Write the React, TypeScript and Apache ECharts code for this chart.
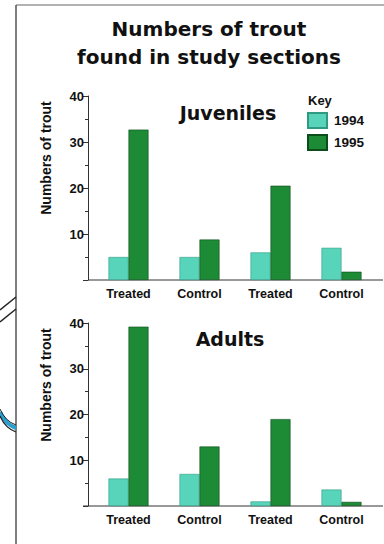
import React, { useEffect, useRef } from "react";
import * as echarts from "echarts";

const categories = ["Treated", "Control", "Treated", "Control"];
const juveniles1994 = [5, 5, 6, 7];
const juveniles1995 = [32.7, 8.8, 20.5, 1.8];
const adults1994 = [6, 7, 1, 3.6];
const adults1995 = [39.2, 13, 19, 0.9];
const seriesNames = ["1994", "1995"];
const titleLines = ["Numbers of trout", "found in study sections"];
const panelTitles = ["Juveniles", "Adults"];
const yName = "Numbers of trout";

const C94 = "#58d4bb";
const C95 = "#1d8a36";
const SMALL = "'Liberation Sans', Arial, sans-serif";
const BIG = "'DejaVu Sans', sans-serif";

export default function App() {
  const ref = useRef<HTMLDivElement>(null);
  useEffect(() => {
    const chart = echarts.init(ref.current!, undefined, { renderer: "svg" });
    const grids = [
      { left: 93, width: 284, top: 96, height: 184 },
      { left: 93, width: 284, top: 323, height: 183 },
    ];
    const yAxis = grids.map((_, i) => ({
      type: "value",
      gridIndex: i,
      min: 0,
      max: 40,
      interval: 10,
      offset: 5,
      axisLine: { show: true, lineStyle: { color: "#333", width: 1 } },
      axisTick: { show: true, length: 5, lineStyle: { color: "#333" } },
      minorTick: { show: true, splitNumber: 2, length: 3, lineStyle: { color: "#333" } },
      splitLine: { show: false },
      axisLabel: {
        fontFamily: SMALL,
        fontWeight: "bold",
        fontSize: 13,
        color: "#111",
        margin: 4,
        formatter: (v: number) => (v === 0 ? "" : String(v)),
      },
    }));
    const xAxis = grids.map((_, i) => ({
      type: "category",
      gridIndex: i,
      data: categories,
      axisLine: { show: false },
      axisTick: { show: false },
      axisLabel: { fontFamily: SMALL, fontWeight: "bold", fontSize: 12.5, color: "#111", margin: 7 },
    }));
    const series = [
      { name: seriesNames[0], data: juveniles1994, xi: 0, c: C94, b: "#2f9a82" },
      { name: seriesNames[1], data: juveniles1995, xi: 0, c: C95, b: "#0c4d1c" },
      { name: seriesNames[0], data: adults1994, xi: 1, c: C94, b: "#2f9a82" },
      { name: seriesNames[1], data: adults1995, xi: 1, c: C95, b: "#0c4d1c" },
    ].map((s) => ({
      type: "bar",
      name: s.name,
      data: s.data,
      xAxisIndex: s.xi,
      yAxisIndex: s.xi,
      barWidth: 20,
      barGap: "0%",
      itemStyle: { color: s.c, borderColor: s.b, borderWidth: 0.6 },
    }));
    const yNameText = (y: number) => ({
      type: "text",
      x: 46,
      y,
      rotation: Math.PI / 2,
      style: {
        text: yName,
        fontFamily: SMALL,
        fontWeight: "bold",
        fontSize: 14,
        fill: "#111",
        textAlign: "center",
        textVerticalAlign: "middle",
      },
    });
    chart.setOption({
      animation: false,
      backgroundColor: "#fff",
      title: {
        text: titleLines.join("\n"),
        left: 204,
        top: 10,
        textAlign: "center",
        textStyle: { fontFamily: BIG, fontWeight: "bold", fontSize: 20, lineHeight: 28, color: "#111" },
      },
      legend: {
        data: seriesNames,
        orient: "vertical",
        left: 307,
        top: 112,
        padding: 0,
        itemWidth: 19,
        itemHeight: 15,
        itemGap: 5,
        icon: "rect",
        textStyle: { fontFamily: SMALL, fontWeight: "bold", fontSize: 13.5, color: "#111", padding: [0, 0, 0, 2] },
      },
      grid: grids,
      xAxis,
      yAxis,
      series,
      graphic: [
        { type: "line", shape: { x1: 16, y1: 5, x2: 384, y2: 5 }, style: { stroke: "#666", lineWidth: 1.2 } },
        { type: "line", shape: { x1: 16, y1: 5, x2: 16, y2: 544 }, style: { stroke: "#555", lineWidth: 1.5 } },
        { type: "line", shape: { x1: 0, y1: 310, x2: 16, y2: 297 }, style: { stroke: "#222", lineWidth: 1.5 } },
        { type: "line", shape: { x1: 0, y1: 322, x2: 16, y2: 309 }, style: { stroke: "#222", lineWidth: 1.5 } },
        { type: "bezierCurve", shape: { x1: 0, y1: 412, x2: 16, y2: 428, cpx1: 5, cpy1: 424 }, style: { stroke: "#2a9fd0", lineWidth: 4, fill: "none" } },
        { type: "bezierCurve", shape: { x1: 0, y1: 416, x2: 16, y2: 432, cpx1: 5, cpy1: 428 }, style: { stroke: "#222", lineWidth: 1.2, fill: "none" } },
        { type: "bezierCurve", shape: { x1: 0, y1: 409, x2: 16, y2: 425, cpx1: 5, cpy1: 421 }, style: { stroke: "#222", lineWidth: 1, fill: "none" } },
        { type: "line", shape: { x1: 88, y1: 280, x2: 383, y2: 280 }, style: { stroke: "#333", lineWidth: 1 } },
        { type: "line", shape: { x1: 83, y1: 506, x2: 383, y2: 506 }, style: { stroke: "#333", lineWidth: 1 } },
        yNameText(158),
        yNameText(385),
        {
          type: "text",
          x: 228,
          y: 113,
          style: { text: panelTitles[0], fontFamily: BIG, fontWeight: "bold", fontSize: 19, fill: "#111", textAlign: "center", textVerticalAlign: "middle" },
        },
        {
          type: "text",
          x: 230,
          y: 339,
          style: { text: panelTitles[1], fontFamily: BIG, fontWeight: "bold", fontSize: 19, fill: "#111", textAlign: "center", textVerticalAlign: "middle" },
        },
        {
          type: "text",
          x: 308,
          y: 100,
          style: { text: "Key", fontFamily: SMALL, fontWeight: "bold", fontSize: 13, fill: "#111", textAlign: "left", textVerticalAlign: "middle" },
        },
      ],
    });
    return () => chart.dispose();
  }, []);
  return <div ref={ref} style={{ position: "fixed", left: 0, top: 0, width: 384, height: 544 }} />;
}
